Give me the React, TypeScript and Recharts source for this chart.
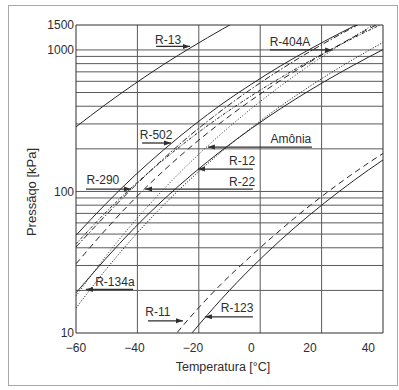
import React from 'react';
import { LineChart, Line, XAxis, YAxis, ReferenceLine, ReferenceDot, Label } from 'recharts';

// Temperatures (°C) at which the saturation pressures are read
const temps = [-60, -50, -40, -30, -20, -10, 0, 10, 20, 30, 40, 50];

// Saturation pressure (kPa) per refrigerant
const r13 = [286, 410, 575, 790, 1060, 1400, 1820, null, null, null, null, null];
const r502 = [49, 81, 129, 197, 291, 416, 573, 772, 1012, 1305, 1653, 2060];
const r404a = [40.5, 67.3, 108.8, 170.9, 258.8, 376.3, 530.6, 727.4, 974, 1276, 1645, 2080];
const r290 = [42.6, 70.5, 111.1, 167.7, 244.5, 345.4, 474.5, 636.4, 836, 1079, 1369, 1713];
const r22 = [30.8, 53.3, 88.6, 140.3, 213, 311.6, 441.9, 610, 822, 1084, 1404, 1788];
const amonia = [18.2, 34.5, 61.5, 103.8, 167.4, 258.8, 385.5, 556.6, 781.4, 1070.6, 1434.5, 1886];
const r12 = [19.2, 33.2, 55.3, 87.8, 133.5, 196, 278.5, 385.2, 519, 685, 888, 1136];
const r134a = [15.0, 27.7, 48.4, 80.3, 126.9, 192.5, 281.8, 400.6, 553.4, 747.8, 988.8, 1284.6];
const r11 = [null, null, 4.1, 7.69, 13.6, 22.5, 35.2, 53.6, 79.4, 113.9, 158.8, 215.7];
const r123 = [null, null, null, 5.73, 10.2, 17.6, 28.9, 45.4, 68.5, 99.9, 141.7, 195.8];

// Axis ticks and grid
const xTicks = [-60, -40, -20, 0, 20, 40];
const yTicks = [10, 100, 1000, 1500];
const gridTemps = [-39, -18, 3, 24];
const gridPressures = [20, 30, 40, 50, 60, 70, 80, 90, 100, 200, 300, 400, 500, 600, 700, 800, 900, 1000];

// Callout labels (text position, arrow level and extent)
const labelNames = ['R-13', 'R-404A', 'R-502', 'Amônia', 'R-12', 'R-22', 'R-290', 'R-134a', 'R-11', 'R-123'];
const labelT = [-28.5, 13.2, -32.6, 13.5, -3.2, -3.2, -50.8, -46.7, -32.0, -4.9];
const labelP = [1177, 1139, 250.6, 235, 164, 116.7, 120.5, 22.9, 14.1, 15.0];
const arrowP = [1059, 1000, 220, 206, 144, 104, 104, 20.3, 12.2, 13.0];
const arrowFromT = [-32.6, 6.3, -37.4, 20.7, 0.5, 0.5, -56.6, -40.5, -35.4, 0.5];
const arrowToT = [-21.0, 27.6, -27.5, -14.9, -18.3, -36.4, -41.2, -56.6, -23.4, -15.9];

const series = [
  { key: 'r13', values: r13, dash: undefined },
  { key: 'r502', values: r502, dash: undefined },
  { key: 'r404a', values: r404a, dash: '6 2 1.5 2' },
  { key: 'r290', values: r290, dash: '3 1.5 1 1.5' },
  { key: 'r22', values: r22, dash: '6 4' },
  { key: 'amonia', values: amonia, dash: '1 2' },
  { key: 'r12', values: r12, dash: undefined },
  { key: 'r134a', values: r134a, dash: '1.2 1.6' },
  { key: 'r11', values: r11, dash: '6 4' },
  { key: 'r123', values: r123, dash: undefined },
];

const data = temps.map((t, i) => {
  const row: Record<string, number | null> = { t };
  series.forEach((s) => {
    row[s.key] = s.values[i];
  });
  return row;
});

const FONT = '"Liberation Sans", Arial, Helvetica, sans-serif';
const INK = '#2e2e2e';
const GRID = '#5a5a5a';

const fmtX = (v: number) => (v < 0 ? '\u2212' + Math.abs(v) : String(v));

export default function App() {
  return (
    <div style={{ position: 'absolute', left: 0, top: 0, width: 399, height: 390, background: '#fff', overflow: 'hidden' }}>
      <div
        style={{
          position: 'absolute',
          left: 8,
          top: 5,
          width: 390,
          height: 381,
          border: '1px solid #a8a8a8',
          boxSizing: 'border-box',
        }}
      />
      <div style={{ position: 'absolute', left: 0, top: 0 }}>
        <LineChart width={399} height={390} data={data} margin={{ top: 25, right: 16, bottom: 17, left: 0 }}>
          <XAxis
            dataKey="t"
            type="number"
            domain={[-60, 45]}
            allowDataOverflow
            ticks={xTicks}
            tickFormatter={fmtX}
            tickLine={false}
            tickSize={0}
            tickMargin={10}
            height={40}
            axisLine={{ stroke: INK, strokeWidth: 1 }}
            tick={{ fill: INK, fontSize: 12, fontFamily: FONT }}
          >
            <Label
              content={() => (
                <text x={223} y={367} textAnchor="middle" dominantBaseline="central" fill={INK} fontSize={12.5} fontFamily={FONT}>
                  Temperatura [°C]
                </text>
              )}
            />
          </XAxis>
          <YAxis
            type="number"
            scale="log"
            domain={[10, 1500]}
            allowDataOverflow
            ticks={yTicks}
            tickLine={false}
            tickSize={0}
            tickMargin={2}
            width={76}
            axisLine={{ stroke: INK, strokeWidth: 1 }}
            tick={{ fill: INK, fontSize: 12, fontFamily: FONT }}
          >
            <Label
              content={() => (
                <text
                  x={31}
                  y={192}
                  transform="rotate(-90 31 192)"
                  textAnchor="middle"
                  dominantBaseline="central"
                  fill={INK}
                  fontSize={13}
                  fontFamily={FONT}
                >
                  Pressãqo [kPa]
                </text>
              )}
            />
          </YAxis>

          {gridPressures.map((p) => (
            <ReferenceLine key={'hp' + p} y={p} stroke={GRID} strokeWidth={1} />
          ))}
          {gridTemps.map((t) => (
            <ReferenceLine key={'vt' + t} x={t} stroke={GRID} strokeWidth={1} />
          ))}
          <ReferenceLine y={1500} stroke={INK} strokeWidth={1} />
          <ReferenceLine x={45} stroke={INK} strokeWidth={1} />

          {series.map((s) => (
            <Line
              key={s.key}
              dataKey={s.key}
              type="monotone"
              stroke="#262626"
              strokeWidth={1}
              strokeDasharray={s.dash}
              dot={false}
              activeDot={false}
              isAnimationActive={false}
              connectNulls={false}
            />
          ))}

          {labelNames.map((name, i) => (
            <ReferenceLine
              key={'ul' + name}
              segment={[
                { x: arrowFromT[i], y: arrowP[i] },
                { x: arrowToT[i], y: arrowP[i] },
              ]}
              stroke={INK}
              strokeWidth={1.3}
            />
          ))}
          {labelNames.map((name, i) => {
            const dir = arrowToT[i] > arrowFromT[i] ? 1 : -1;
            return (
              <ReferenceDot
                key={'ah' + name}
                x={arrowToT[i]}
                y={arrowP[i]}
                r={0}
                shape={(props: any) => {
                  const cx = props.cx;
                  const cy = props.cy;
                  const d = `M${cx},${cy} L${cx - dir * 7},${cy - 2.5} L${cx - dir * 7},${cy + 2.5} Z`;
                  return <path d={d} fill={INK} stroke="none" />;
                }}
              />
            );
          })}
          {labelNames.map((name, i) => (
            <ReferenceDot
              key={'lb' + name}
              x={labelT[i]}
              y={labelP[i]}
              r={0}
              shape={(props: any) => (
                <text
                  x={props.cx}
                  y={props.cy}
                  textAnchor="middle"
                  dominantBaseline="central"
                  fill={INK}
                  fontSize={12}
                  fontFamily={FONT}
                >
                  {name}
                </text>
              )}
            />
          ))}
        </LineChart>
      </div>
    </div>
  );
}
